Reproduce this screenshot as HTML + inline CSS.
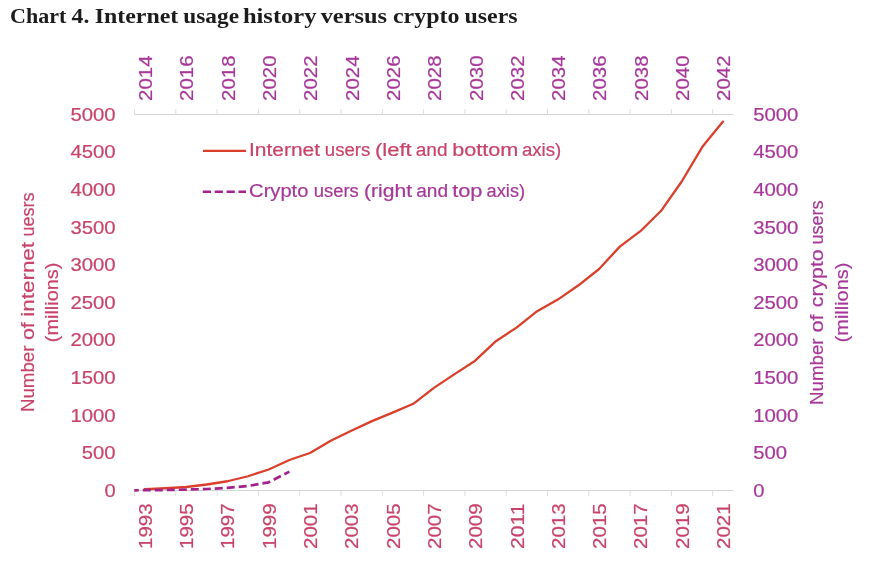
<!DOCTYPE html>
<html lang="en"><head><meta charset="utf-8"><title>Chart 4. Internet usage history versus crypto users</title>
<style>html,body{margin:0;padding:0;background:#fff}body{width:880px;height:565px;overflow:hidden}svg{display:block}text{font-family:"Liberation Sans",Arial,sans-serif}.t{font-family:"Liberation Serif","DejaVu Serif",serif;font-weight:bold}</style></head><body>
<svg width="880" height="565" viewBox="0 0 880 565">
<rect width="880" height="565" fill="#fff"/>
<g fill="#1c1c1c"><text font-size="22" y="23.3" class="t"><tspan x="10.0" textLength="56.3" lengthAdjust="spacingAndGlyphs">Chart</tspan> <tspan x="71.6" textLength="17.7" lengthAdjust="spacingAndGlyphs">4.</tspan> <tspan x="94.7" textLength="83.6" lengthAdjust="spacingAndGlyphs">Internet</tspan> <tspan x="183.3" textLength="55.7" lengthAdjust="spacingAndGlyphs">usage</tspan> <tspan x="242.9" textLength="73.6" lengthAdjust="spacingAndGlyphs">history</tspan> <tspan x="320.7" textLength="66.3" lengthAdjust="spacingAndGlyphs">versus</tspan> <tspan x="392.9" textLength="66.6" lengthAdjust="spacingAndGlyphs">crypto</tspan> <tspan x="464.5" textLength="53.1" lengthAdjust="spacingAndGlyphs">users</tspan></text></g>
<g stroke="#d4d4d4" stroke-width="1" fill="none">
<path d="M134.5 114.5H733.3M134.5 490.5H733.3"/>
<path d="M134.50 114.5v-5.5M134.50 490.5v5.5M175.80 114.5v-5.5M175.80 490.5v5.5M217.10 114.5v-5.5M217.10 490.5v5.5M258.40 114.5v-5.5M258.40 490.5v5.5M299.70 114.5v-5.5M299.70 490.5v5.5M341.00 114.5v-5.5M341.00 490.5v5.5M382.30 114.5v-5.5M382.30 490.5v5.5M423.60 114.5v-5.5M423.60 490.5v5.5M464.90 114.5v-5.5M464.90 490.5v5.5M506.20 114.5v-5.5M506.20 490.5v5.5M547.50 114.5v-5.5M547.50 490.5v5.5M588.80 114.5v-5.5M588.80 490.5v5.5M630.10 114.5v-5.5M630.10 490.5v5.5M671.40 114.5v-5.5M671.40 490.5v5.5M712.70 114.5v-5.5M712.70 490.5v5.5" stroke="#dedede"/>
</g>
<g fill="#c8436a" stroke="#c8436a" stroke-width="0.2"><text x="70.4" y="120.7" font-size="18" textLength="45.2" lengthAdjust="spacingAndGlyphs">5000</text>
<text x="70.4" y="158.3" font-size="18" textLength="45.2" lengthAdjust="spacingAndGlyphs">4500</text>
<text x="70.4" y="195.9" font-size="18" textLength="45.2" lengthAdjust="spacingAndGlyphs">4000</text>
<text x="70.4" y="233.5" font-size="18" textLength="45.2" lengthAdjust="spacingAndGlyphs">3500</text>
<text x="70.4" y="271.1" font-size="18" textLength="45.2" lengthAdjust="spacingAndGlyphs">3000</text>
<text x="70.4" y="308.7" font-size="18" textLength="45.2" lengthAdjust="spacingAndGlyphs">2500</text>
<text x="70.4" y="346.3" font-size="18" textLength="45.2" lengthAdjust="spacingAndGlyphs">2000</text>
<text x="70.4" y="383.9" font-size="18" textLength="45.2" lengthAdjust="spacingAndGlyphs">1500</text>
<text x="70.4" y="421.5" font-size="18" textLength="45.2" lengthAdjust="spacingAndGlyphs">1000</text>
<text x="81.8" y="459.1" font-size="18" textLength="33.8" lengthAdjust="spacingAndGlyphs">500</text>
<text x="104.4" y="496.7" font-size="18" textLength="11.2" lengthAdjust="spacingAndGlyphs">0</text>
<text transform="translate(151.82 549) rotate(-90)" font-size="18" textLength="45.6" lengthAdjust="spacingAndGlyphs">1993</text>
<text transform="translate(193.12 549) rotate(-90)" font-size="18" textLength="45.6" lengthAdjust="spacingAndGlyphs">1995</text>
<text transform="translate(234.43 549) rotate(-90)" font-size="18" textLength="45.6" lengthAdjust="spacingAndGlyphs">1997</text>
<text transform="translate(275.73 549) rotate(-90)" font-size="18" textLength="45.6" lengthAdjust="spacingAndGlyphs">1999</text>
<text transform="translate(317.02 549) rotate(-90)" font-size="18" textLength="45.6" lengthAdjust="spacingAndGlyphs">2001</text>
<text transform="translate(358.32 549) rotate(-90)" font-size="18" textLength="45.6" lengthAdjust="spacingAndGlyphs">2003</text>
<text transform="translate(399.62 549) rotate(-90)" font-size="18" textLength="45.6" lengthAdjust="spacingAndGlyphs">2005</text>
<text transform="translate(440.92 549) rotate(-90)" font-size="18" textLength="45.6" lengthAdjust="spacingAndGlyphs">2007</text>
<text transform="translate(482.22 549) rotate(-90)" font-size="18" textLength="45.6" lengthAdjust="spacingAndGlyphs">2009</text>
<text transform="translate(523.52 549) rotate(-90)" font-size="18" textLength="45.6" lengthAdjust="spacingAndGlyphs">2011</text>
<text transform="translate(564.83 549) rotate(-90)" font-size="18" textLength="45.6" lengthAdjust="spacingAndGlyphs">2013</text>
<text transform="translate(606.12 549) rotate(-90)" font-size="18" textLength="45.6" lengthAdjust="spacingAndGlyphs">2015</text>
<text transform="translate(647.42 549) rotate(-90)" font-size="18" textLength="45.6" lengthAdjust="spacingAndGlyphs">2017</text>
<text transform="translate(688.72 549) rotate(-90)" font-size="18" textLength="45.6" lengthAdjust="spacingAndGlyphs">2019</text>
<text transform="translate(730.02 549) rotate(-90)" font-size="18" textLength="45.6" lengthAdjust="spacingAndGlyphs">2021</text>
<text font-size="18" transform="translate(33.8 411.3) rotate(-90)" y="0"><tspan x="-0.8" textLength="66.6" lengthAdjust="spacingAndGlyphs">Number</tspan> <tspan x="71.2" textLength="17.9" lengthAdjust="spacingAndGlyphs">of</tspan> <tspan x="94.5" textLength="74.9" lengthAdjust="spacingAndGlyphs">internet</tspan> <tspan x="174.8" textLength="44.0" lengthAdjust="spacingAndGlyphs">uesrs</tspan></text>
<text transform="translate(58.2 342.2) rotate(-90)" font-size="18" textLength="79.6" lengthAdjust="spacingAndGlyphs">(millions)</text>
<text font-size="18" y="156.4"><tspan x="249.0" textLength="71.0" lengthAdjust="spacingAndGlyphs">Internet</tspan> <tspan x="324.8" textLength="45.5" lengthAdjust="spacingAndGlyphs">users</tspan> <tspan x="374.9" textLength="36.8" lengthAdjust="spacingAndGlyphs">(left</tspan> <tspan x="415.7" textLength="31.8" lengthAdjust="spacingAndGlyphs">and</tspan> <tspan x="452.2" textLength="66.2" lengthAdjust="spacingAndGlyphs">bottom</tspan> <tspan x="521.9" textLength="39.3" lengthAdjust="spacingAndGlyphs">axis)</tspan></text></g>
<g fill="#a63799" stroke="#a63799" stroke-width="0.2"><text x="753.2" y="120.7" font-size="18" textLength="45.2" lengthAdjust="spacingAndGlyphs">5000</text>
<text x="753.2" y="158.3" font-size="18" textLength="45.2" lengthAdjust="spacingAndGlyphs">4500</text>
<text x="753.2" y="195.9" font-size="18" textLength="45.2" lengthAdjust="spacingAndGlyphs">4000</text>
<text x="753.2" y="233.5" font-size="18" textLength="45.2" lengthAdjust="spacingAndGlyphs">3500</text>
<text x="753.2" y="271.1" font-size="18" textLength="45.2" lengthAdjust="spacingAndGlyphs">3000</text>
<text x="753.2" y="308.7" font-size="18" textLength="45.2" lengthAdjust="spacingAndGlyphs">2500</text>
<text x="753.2" y="346.3" font-size="18" textLength="45.2" lengthAdjust="spacingAndGlyphs">2000</text>
<text x="753.2" y="383.9" font-size="18" textLength="45.2" lengthAdjust="spacingAndGlyphs">1500</text>
<text x="753.2" y="421.5" font-size="18" textLength="45.2" lengthAdjust="spacingAndGlyphs">1000</text>
<text x="753.2" y="459.1" font-size="18" textLength="33.8" lengthAdjust="spacingAndGlyphs">500</text>
<text x="753.2" y="496.7" font-size="18" textLength="11.2" lengthAdjust="spacingAndGlyphs">0</text>
<text transform="translate(152.12 100.9) rotate(-90)" font-size="18" textLength="45.4" lengthAdjust="spacingAndGlyphs">2014</text>
<text transform="translate(193.42 100.9) rotate(-90)" font-size="18" textLength="45.4" lengthAdjust="spacingAndGlyphs">2016</text>
<text transform="translate(234.72 100.9) rotate(-90)" font-size="18" textLength="45.4" lengthAdjust="spacingAndGlyphs">2018</text>
<text transform="translate(276.03 100.9) rotate(-90)" font-size="18" textLength="45.4" lengthAdjust="spacingAndGlyphs">2020</text>
<text transform="translate(317.32 100.9) rotate(-90)" font-size="18" textLength="45.4" lengthAdjust="spacingAndGlyphs">2022</text>
<text transform="translate(358.62 100.9) rotate(-90)" font-size="18" textLength="45.4" lengthAdjust="spacingAndGlyphs">2024</text>
<text transform="translate(399.93 100.9) rotate(-90)" font-size="18" textLength="45.4" lengthAdjust="spacingAndGlyphs">2026</text>
<text transform="translate(441.22 100.9) rotate(-90)" font-size="18" textLength="45.4" lengthAdjust="spacingAndGlyphs">2028</text>
<text transform="translate(482.52 100.9) rotate(-90)" font-size="18" textLength="45.4" lengthAdjust="spacingAndGlyphs">2030</text>
<text transform="translate(523.83 100.9) rotate(-90)" font-size="18" textLength="45.4" lengthAdjust="spacingAndGlyphs">2032</text>
<text transform="translate(565.13 100.9) rotate(-90)" font-size="18" textLength="45.4" lengthAdjust="spacingAndGlyphs">2034</text>
<text transform="translate(606.43 100.9) rotate(-90)" font-size="18" textLength="45.4" lengthAdjust="spacingAndGlyphs">2036</text>
<text transform="translate(647.73 100.9) rotate(-90)" font-size="18" textLength="45.4" lengthAdjust="spacingAndGlyphs">2038</text>
<text transform="translate(689.02 100.9) rotate(-90)" font-size="18" textLength="45.4" lengthAdjust="spacingAndGlyphs">2040</text>
<text transform="translate(730.33 100.9) rotate(-90)" font-size="18" textLength="45.4" lengthAdjust="spacingAndGlyphs">2042</text>
<text font-size="18" transform="translate(822.8 404.2) rotate(-90)" y="0"><tspan x="-0.8" textLength="66.6" lengthAdjust="spacingAndGlyphs">Number</tspan> <tspan x="71.6" textLength="18.2" lengthAdjust="spacingAndGlyphs">of</tspan> <tspan x="97.0" textLength="57.8" lengthAdjust="spacingAndGlyphs">crypto</tspan> <tspan x="159.6" textLength="44.2" lengthAdjust="spacingAndGlyphs">users</tspan></text>
<text transform="translate(847.5 342.3) rotate(-90)" font-size="18" textLength="79.6" lengthAdjust="spacingAndGlyphs">(millions)</text>
<text font-size="18" y="197.0"><tspan x="249.1" textLength="59.3" lengthAdjust="spacingAndGlyphs">Crypto</tspan> <tspan x="313.7" textLength="45.1" lengthAdjust="spacingAndGlyphs">users</tspan> <tspan x="364.0" textLength="48.0" lengthAdjust="spacingAndGlyphs">(right</tspan> <tspan x="416.2" textLength="31.8" lengthAdjust="spacingAndGlyphs">and</tspan> <tspan x="452.2" textLength="30.3" lengthAdjust="spacingAndGlyphs">top</tspan> <tspan x="486.6" textLength="38.5" lengthAdjust="spacingAndGlyphs">axis)</tspan></text></g>
<path d="M203 150.95H246.1" stroke="#d93f2b" stroke-width="2.3" fill="none"/>
<path d="M202.8 191.7H246.1" stroke="#a3238e" stroke-width="2.6" stroke-dasharray="8.2 3.7" fill="none"/>
<path d="M144.8 489.25 L165.5 488.25 L186.1 487 L206.8 484.5 L227.4 481.25 L248.1 476.25 L268.7 469.5 L289.4 460 L310.0 453 L330.7 440.75 L351.3 430.8 L372.0 421.1 L392.6 412.6 L413.3 403.8 L433.9 387.9 L454.6 374.1 L475.2 360.7 L495.9 341.2 L516.5 327.6 L537.2 311.2 L557.8 299.6 L578.5 285.3 L599.1 269 L619.8 246.6 L640.4 231.2 L661.1 210.8 L681.7 181.5 L702.4 146.8 L723.0 121.6" stroke="#d93f2b" stroke-width="2.3" fill="none" stroke-linejoin="round" stroke-linecap="round"/>
<path d="M134.3 490.3 L144.8 490.2 L165.5 490 L186.1 489.6 L206.8 489 L227.4 487.8 L248.1 486 L268.7 482.3 L289.4 471.6" stroke="#a3238e" stroke-width="2.7" stroke-dasharray="8 4" stroke-dashoffset="3.5" fill="none" stroke-linejoin="round"/>
</svg></body></html>
